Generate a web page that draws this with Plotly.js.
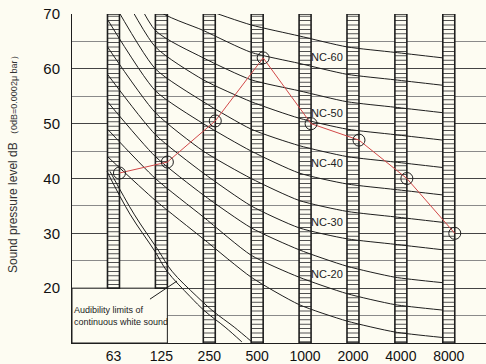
<!DOCTYPE html>
<html>
<head>
<meta charset="utf-8">
<script src="https://cdn.plot.ly/plotly-3.0.1.min.js"></script>
<style>
  html, body { margin: 0; padding: 0; background: #fdfcf2; }
  #chart { width: 486px; height: 364px; }
</style>
</head>
<body>
<div id="chart"></div>
<script>
// ---- data ----
const freqLabels = ['63', '125', '250', '500', '1000', '2000', '4000', '8000'];
const measured = [41, 43, 50.5, 62, 50, 47, 40, 30];
const barBase = [20, 20, 10, 10, 10, 10, 10, 10];
const barTop = 70;

const ncNames = ['NC-15', 'NC-20', 'NC-25', 'NC-30', 'NC-35', 'NC-40', 'NC-45', 'NC-50', 'NC-55', 'NC-60', 'NC-65'];
const nc15 = [44, 36, 29, 22, 17, 14, 12, 11];
const nc20 = [49, 40, 33, 26, 22, 19, 17, 16];
const nc25 = [54, 44, 37, 31, 27, 24, 22, 21];
const nc30 = [59, 48, 41, 35, 31, 29, 28, 27];
const nc35 = [64, 52, 45, 40, 36, 34, 33, 32];
const nc40 = [69, 56, 50, 45, 41, 39, 38, 37];
const nc45 = [74, 60, 54, 49, 46, 44, 43, 42];
const nc50 = [79, 64, 58, 54, 51, 49, 48, 47];
const nc55 = [84, 67, 62, 58, 56, 54, 53, 52];
const nc60 = [89, 71, 67, 63, 61, 59, 58, 57];
const nc65 = [94, 75, 71, 68, 66, 64, 63, 62];
const ncSeries = [nc15, nc20, nc25, nc30, nc35, nc40, nc45, nc50, nc55, nc60, nc65];

const ncLabelText = ['NC-60', 'NC-50', 'NC-40', 'NC-30', 'NC-20'];
const ncLabelY = [62.1, 51.9, 42.85, 32.05, 22.5];

// audibility limit double line (octave-index position, dB)
const audAx = [-0.136, 0.344, 0.866, 1.117, 1.597, 1.91, 2.33, 2.68];
const audAy = [41.3, 33.5, 26.7, 23.1, 18.5, 15.8, 12.9, 10.2];
const audBx = [-0.073, 0.43, 0.95, 1.22, 1.74, 2.08, 2.52, 2.89];
const audBy = [41.3, 33.5, 26.7, 23.1, 18.5, 15.8, 12.9, 10.2];
const audLabel = 'Audibility limits of<br>continuous white sound';

// ---- styling / layout ----
const cream = '#fdfcf2';
const ink = '#1e1e1e';
const barW = 0.25;
const idx = freqLabels.map((_, i) => i);
const xRange = [-0.866, 7.777];

const traces = [];
traces.push({
  type: 'bar', x: idx, base: barBase, y: barBase.map(b => barTop - b),
  width: barW, hoverinfo: 'skip',
  marker: {
    color: cream,
    line: { color: ink, width: 1.6 },
    pattern: { shape: '-', size: 4.4, solidity: 0.2, fgcolor: '#3a3a3a', bgcolor: cream, fillmode: 'replace' }
  }
});
ncSeries.forEach((s, k) => {
  traces.push({
    type: 'scatter', mode: 'lines', name: ncNames[k],
    x: idx.map(i => i - barW / 2), y: s,
    line: { color: ink, width: 1, shape: 'spline', smoothing: 0.6 }
  });
});
traces.push({ type: 'scatter', mode: 'lines', x: audAx, y: audAy, line: { color: ink, width: 1, shape: 'spline' } });
traces.push({ type: 'scatter', mode: 'lines', x: audBx, y: audBy, line: { color: ink, width: 1, shape: 'spline' } });
traces.push({
  type: 'scatter', mode: 'lines+markers',
  x: idx.map(i => i + barW / 2), y: measured,
  line: { color: '#d24848', width: 1 },
  marker: { symbol: 'circle-open', size: 12, color: ink, line: { width: 1, color: ink } }
});

const annotations = ncLabelText.map((t, k) => ({
  x: 4.46, y: ncLabelY[k], xref: 'x', yref: 'y', text: t, showarrow: false,
  font: { family: 'Liberation Sans, Arial, sans-serif', size: 11, color: '#222' }
}));
annotations.push({
  x: xRange[0], y: 15.0, xref: 'x', yref: 'y', xanchor: 'left', yanchor: 'middle', align: 'left',
  text: audLabel, showarrow: false,
  font: { family: 'Liberation Sans Narrow, Arial Narrow, Liberation Sans, sans-serif', size: 9, color: '#222' }
});
annotations.push({
  xref: 'paper', yref: 'paper', x: -0.141, y: 0.549, xanchor: 'center', yanchor: 'middle',
  textangle: -90, showarrow: false,
  text: 'Sound pressure level dB <span style="font-size:9px">（0dB=0.0002μ bar）</span>',
  font: { family: 'Liberation Sans, Arial, sans-serif', size: 12, color: '#333' }
});

const layout = {
  width: 486, height: 364,
  margin: { l: 72, r: 0, t: 14, b: 21 },
  paper_bgcolor: cream, plot_bgcolor: cream,
  showlegend: false, barmode: 'overlay',
  xaxis: {
    range: xRange, tickmode: 'array', tickvals: idx, ticktext: freqLabels,
    showgrid: false, zeroline: false, showline: true, linecolor: ink, linewidth: 1,
    ticks: '', tickfont: { family: 'Liberation Sans, Arial, sans-serif', size: 14, color: '#111' }
  },
  yaxis: {
    range: [10, 70], tickmode: 'array', tickvals: [20, 30, 40, 50, 60, 70],
    showgrid: true, gridcolor: '#444444', gridwidth: 1,
    minor: { tickmode: 'array', tickvals: [15, 25, 35, 45, 55, 65], showgrid: true, gridcolor: '#8a8a8a', gridwidth: 1 },
    zeroline: false, showline: true, linecolor: ink, linewidth: 1,
    ticks: 'outside', ticklen: 8, tickcolor: 'rgba(0,0,0,0)',
    tickfont: { family: 'Liberation Sans, Arial, sans-serif', size: 15, color: '#111' }
  },
  shapes: [
    { type: 'rect', layer: 'between', xref: 'x', yref: 'y', x0: xRange[0], x1: 1 + barW / 2, y0: 10, y1: 20,
      fillcolor: cream, line: { color: ink, width: 1 } },
    { type: 'line', layer: 'above', xref: 'x', yref: 'y', x0: 0.762, y0: 18.0, x1: 1.326, y1: 21.3,
      line: { color: ink, width: 1 } }
  ],
  annotations: annotations
};

Plotly.newPlot('chart', traces, layout, { staticPlot: true, displayModeBar: false });
</script>
</body>
</html>
